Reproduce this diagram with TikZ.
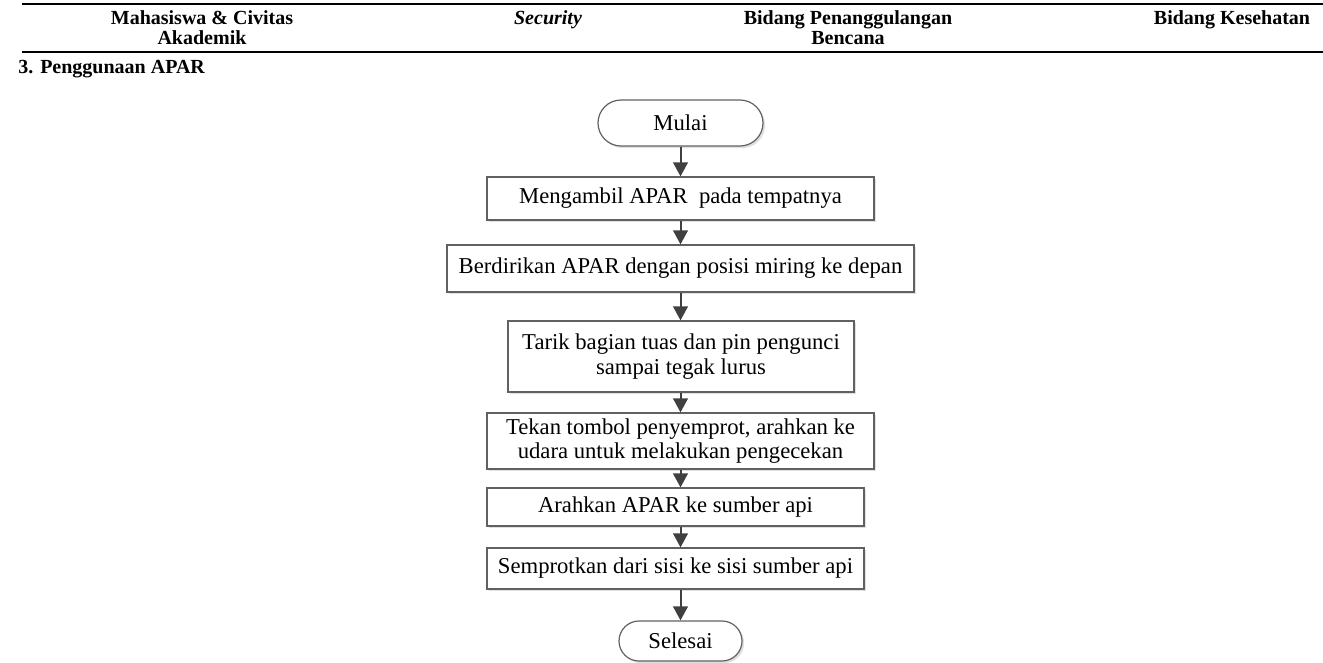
\documentclass[tikz,border=0pt]{standalone}
\usepackage{fontspec}
\setmainfont{Liberation Serif}
\usetikzlibrary{arrows.meta,shadows}
\begin{document}
\begin{tikzpicture}[x=0.75pt,y=-0.75pt,
  hdr/.style={font=\fontsize{15}{15}\selectfont\bfseries, anchor=base, inner sep=0pt},
  tablerule/.style={line width=1.9pt},
  procbox/.style={draw=black!62, line width=0.9pt, fill=white, inner sep=0pt,
    align=center, font=\fontsize{17}{18.5}\selectfont,
    drop shadow={shadow xshift=1.6pt, shadow yshift=-1.6pt, fill=black!12, opacity=1}},
  termbox/.style={procbox, rounded corners=#1},
  flow/.style={draw=black!75, line width=1.5pt, -{Triangle[width=11pt,length=10.5pt]}}
]
\useasboundingbox (0,0) rectangle (1323,662);

% table header
\coordinate (tl) at (22,4);
\coordinate (tr) at (1323,4);
\coordinate (bl) at (22,52);
\coordinate (br) at (1323,52);
\draw[tablerule] (tl) -- (tr);
\draw[tablerule] (bl) -- (br);
\node[hdr] (h1a) at (202,24) {Mahasiswa \& Civitas};
\node[hdr] (h1b) at (202,44) {Akademik};
\node[hdr] (h2)  at (548,24) {\itshape Security};
\node[hdr] (h3a) at (848,24) {Bidang Penanggulangan};
\node[hdr] (h3b) at (848,44) {Bencana};
\node[hdr] (h4)  at (1232,24) {Bidang Kesehatan};

% section title
\node[hdr, anchor=base west] (secnum) at (18,73) {3.};
\node[hdr, anchor=base west] (sectitle) at (40,73) {Penggunaan APAR};

% flowchart
\node[termbox=17.25pt, minimum width=123.75pt, minimum height=34.5pt] (start) at (680.5,123) {Mulai};
\node[procbox, minimum width=290.25pt, minimum height=32.25pt] (b1) at (680.5,198.5) {Mengambil APAR \ pada tempatnya};
\node[procbox, minimum width=350.25pt, minimum height=35.25pt] (b2) at (680.5,268.5) {Berdirikan APAR dengan posisi miring ke depan};
\node[procbox, minimum width=259.5pt, minimum height=53.25pt] (b3) at (681,356.5) {Tarik bagian tuas dan pin pengunci\\sampai tegak lurus};
\node[procbox, minimum width=290.25pt, minimum height=42pt] (b4) at (680.5,441) {Tekan tombol penyemprot, arahkan ke\\udara untuk melakukan pengecekan};
\node[procbox, minimum width=282.75pt, minimum height=28.5pt] (b5) at (675.5,507) {Arahkan APAR ke sumber api};
\node[procbox, minimum width=282.75pt, minimum height=30.75pt] (b6) at (675.5,568.5) {Semprotkan dari sisi ke sisi sumber api};
\node[termbox=15pt, minimum width=92.25pt, minimum height=30pt] (end) at (680.5,641) {Selesai};

\draw[flow] (start.south) -- (b1.north -| start);
\draw[flow] (b1.south -| start) -- (b2.north -| start);
\draw[flow] (b2.south -| start) -- (b3.north -| start);
\draw[flow] (b3.south -| start) -- (b4.north -| start);
\draw[flow] (b4.south -| start) -- (b5.north -| start);
\draw[flow] (b5.south -| start) -- (b6.north -| start);
\draw[flow] (b6.south -| start) -- (end.north);
\end{tikzpicture}
\end{document}
